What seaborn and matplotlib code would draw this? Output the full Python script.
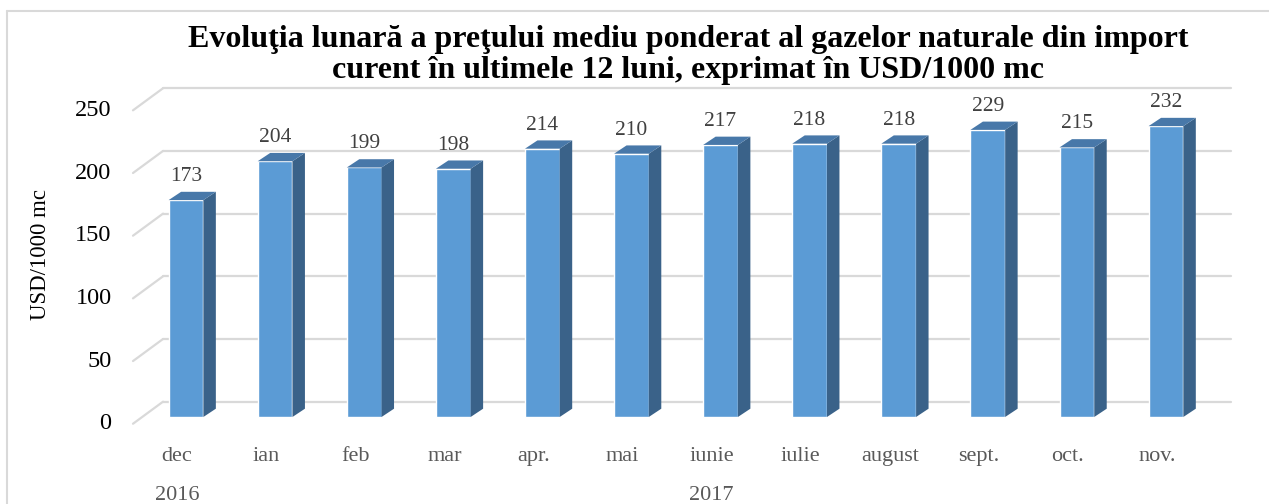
import numpy as np
import pandas as pd
import matplotlib
matplotlib.use("Agg")
import matplotlib.pyplot as plt
import seaborn as sns
from matplotlib.patches import Polygon

# data
months = ["dec", "ian", "feb", "mar", "apr.", "mai", "iunie", "iulie",
          "august", "sept.", "oct.", "nov."]
prices = [173, 204, 199, 198, 214, 210, 217, 218, 218, 229, 215, 232]
years = ["2016", "2017"]
year_span = [(0, 0), (1, 11)]
grid_values = [0, 50, 100, 150, 200, 250]

title = ("Evoluţia lunară a preţului mediu ponderat al gazelor naturale din import\n"
         "curent în ultimele 12 luni, exprimat în USD/1000 mc")

df = pd.DataFrame({"luna": months, "pret": prices})

sns.set_style("white")
plt.rcParams["font.family"] = ["Liberation Serif", "DejaVu Serif"]

W, H = 1269, 504
fig = plt.figure(figsize=(W / 100, H / 100), dpi=100)
# axes placed in pixels: left 133, right 1231, bottom 425, top 87 (from top)
ax = fig.add_axes([133 / W, (H - 425) / H, 1098 / W, 338 / H])

front = "#5B9BD5"
side = "#3A6289"
top = "#4878A9"
grid_c = "#D9D9D9"

sns.barplot(data=df, x="luna", y="pret", color=front, width=0.39,
            saturation=1, ax=ax, zorder=3)

ax.set_xlim(-0.595, 11.73)
ax.set_ylim(-6.4, 263.2)
ax.axis("off")

# 3d look: depth of the bars and of the floor/back wall in data units
bdx, bdy = 0.14, 6.6
wdx, wdy = 0.225, 12.2
fdx, fdy = -0.112, -6.0

for g in grid_values:
    ax.plot([-0.595 + 0.337, 11.73], [g + wdy, g + wdy], color=grid_c,
            lw=1.6, zorder=1, clip_on=False)
    ax.plot([-0.595, -0.595 + 0.337], [g + fdy + 0.6, g + wdy], color=grid_c,
            lw=1.6, zorder=1, clip_on=False)
    ax.text(-0.595 - 0.24, g + fdy + 0.6, str(g), ha="right", va="center",
            fontsize=17.5, color="black")

for p, v in zip(ax.patches, prices):
    xl = p.get_x()
    xr = xl + p.get_width()
    ax.add_patch(Polygon([(xr, 0), (xr, v), (xr + bdx, v + bdy), (xr + bdx, bdy)],
                         closed=True, facecolor=side, edgecolor="none", zorder=3))
    ax.add_patch(Polygon([(xl, v), (xr, v), (xr + bdx, v + bdy), (xl + bdx, v + bdy)],
                         closed=True, facecolor=top, edgecolor="none", zorder=3))
    ax.annotate(str(v), (xl + p.get_width() / 2, v), xytext=(0, 17),
                textcoords="offset points", ha="center", va="center",
                fontsize=15.5, color="#404040")

for i, m in enumerate(months):
    ax.text(i - 0.1, -31.5, m, ha="center", va="center", fontsize=16,
            color="#595959")

for yr, (a, b) in zip(years, year_span):
    ax.text((a + b) / 2 - 0.1, -62.5, yr, ha="center", va="center",
            fontsize=16, color="#595959")

fig.text(41 / W, 1 - 255 / H, "USD/1000 mc", rotation=90, ha="center",
         va="center", fontsize=16.5, color="black")
fig.text(688 / W, 1 - 55 / H, title, ha="center", va="center",
         fontsize=23, fontweight="bold", linespacing=1.08, color="black")

# chart border (top and left visible)
fig.add_artist(plt.Line2D([7 / W, 7 / W], [0, 1 - 11 / H], color=grid_c, lw=1.5))
fig.add_artist(plt.Line2D([7 / W, 1], [1 - 11 / H, 1 - 11 / H], color=grid_c, lw=1.5))

fig.savefig("out.png", dpi=100)
